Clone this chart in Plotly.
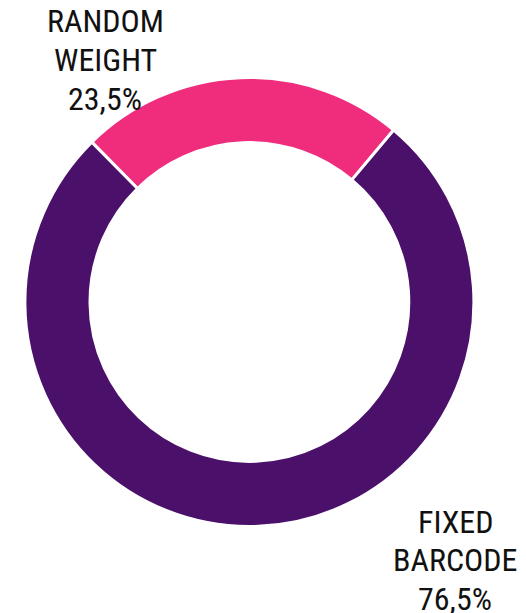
import plotly.graph_objects as go

categories = ["RANDOM WEIGHT", "FIXED BARCODE"]
label_lines = [["RANDOM", "WEIGHT"], ["FIXED", "BARCODE"]]
values = [23.5, 76.5]
colors = ["#F02D7D", "#4A106A"]

# page body has an 8px margin; work in window pixels and convert
OFF = 8
W, H = 526 - OFF, 613 - OFF
cx, cy, r = 249.4 - OFF, 302.0 - OFF, 224.5

fig = go.Figure(go.Pie(
    labels=categories,
    values=values,
    hole=0.71,
    sort=False,
    direction="clockwise",
    rotation=-44.6,
    textinfo="none",
    hoverinfo="label+percent",
    marker=dict(colors=colors, line=dict(color="white", width=3)),
    domain=dict(x=[(cx - r) / W, (cx + r) / W], y=[(H - cy - r) / H, (H - cy + r) / H]),
    showlegend=False,
))

font = dict(family="Roboto Condensed, Liberation Sans Narrow, Roboto, sans-serif", size=32, color="#111111")
label_x = [105 - OFF, 455 - OFF]
label_top = [21.5 - OFF, 521.5 - OFF]
spacing = 38.5
annotations = []
for i, lines in enumerate(label_lines):
    pct = f"{values[i]:.1f}".replace(".", ",") + "%"
    for j, t in enumerate(lines + [pct]):
        py = label_top[i] + j * spacing
        annotations.append(dict(
            text=t, x=label_x[i] / W, y=1 - py / H, xref="paper", yref="paper",
            xanchor="center", yanchor="middle", showarrow=False, font=font,
        ))

fig.update_layout(
    width=W, height=H,
    margin=dict(l=0, r=0, t=0, b=0),
    paper_bgcolor="white", plot_bgcolor="white",
    annotations=annotations,
)
fig.write_html("out.html")
